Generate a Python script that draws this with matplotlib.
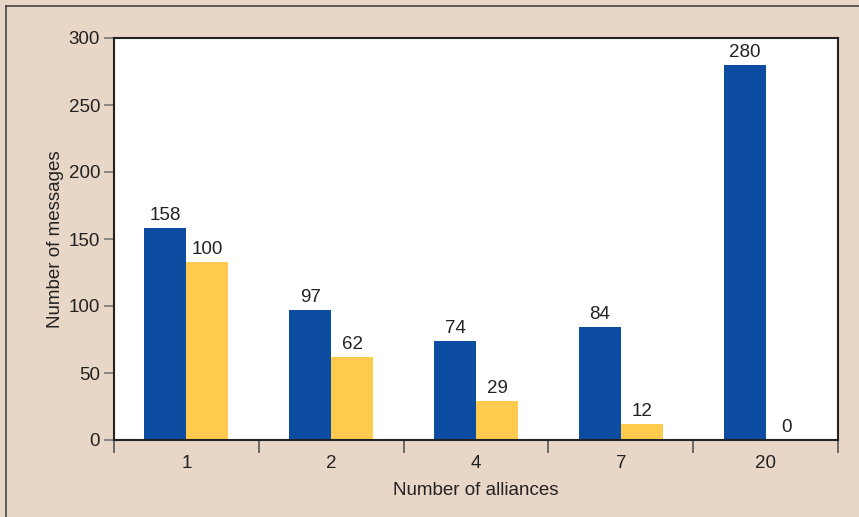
import matplotlib
matplotlib.use("Agg")
import matplotlib.pyplot as plt
from matplotlib.lines import Line2D
import numpy as np

plt.rcParams['font.family'] = ['Liberation Sans', 'DejaVu Sans']

categories = ["1", "2", "4", "7", "20"]
blue_values = [158, 97, 74, 84, 280]
yellow_values = [133, 62, 29, 12, 0]
blue_labels = ["158", "97", "74", "84", "280"]
yellow_labels = ["100", "62", "29", "12", "0"]
yticks = [0, 50, 100, 150, 200, 250, 300]

bg = "#e8d6c7"
blue = "#0c4ca1"
yellow = "#fecb4e"
txt = "#222222"
fs = 13.5

fig = plt.figure(figsize=(8.59, 5.17), dpi=100, facecolor=bg)
ax = fig.add_axes([114/859, 1-440/517, (838-114)/859, (440-38)/517])
ax.set_facecolor("white")

x = np.arange(len(categories))
w = 0.29
b1 = ax.bar(x - w/2, blue_values, w, color=blue)
b2 = ax.bar(x + w/2, yellow_values, w, color=yellow)

for rect, lab in zip(b1, blue_labels):
    ax.text(rect.get_x() + rect.get_width()/2, rect.get_height() + 3, lab,
            ha="center", va="bottom", fontsize=fs, color=txt)
for rect, lab in zip(b2, yellow_labels):
    ax.text(rect.get_x() + rect.get_width()/2, rect.get_height() + 3, lab,
            ha="center", va="bottom", fontsize=fs, color=txt)

ax.set_xlim(-0.5, len(categories) - 0.5)
ax.set_ylim(0, 300)
ax.set_yticks(yticks)
ax.set_yticklabels([str(v) for v in yticks], fontsize=fs, color=txt)
ax.set_xticks(x)
ax.set_xticklabels(categories, fontsize=fs, color=txt)
ax.tick_params(axis="x", which="major", length=0, pad=11)
ax.set_xticks(np.arange(len(categories) + 1) - 0.5, minor=True)
ax.tick_params(axis="x", which="minor", length=9, width=1.2, color="#555555")
ax.tick_params(axis="y", length=7, width=1.2, color="#777777", pad=3)

for s in ax.spines.values():
    s.set_color("#222222")
    s.set_linewidth(1.5)

ax.set_xlabel("Number of alliances", fontsize=fs, color=txt, labelpad=7)
ax.set_ylabel("Number of messages", fontsize=fs, color=txt, labelpad=3)

fig.add_artist(Line2D([6/859, 6/859], [0, 1-6/517], transform=fig.transFigure, color="#444444", lw=1.2))
fig.add_artist(Line2D([6/859, 1], [1-6/517, 1-6/517], transform=fig.transFigure, color="#444444", lw=1.2))

fig.savefig("out.png", dpi=100, facecolor=bg)
